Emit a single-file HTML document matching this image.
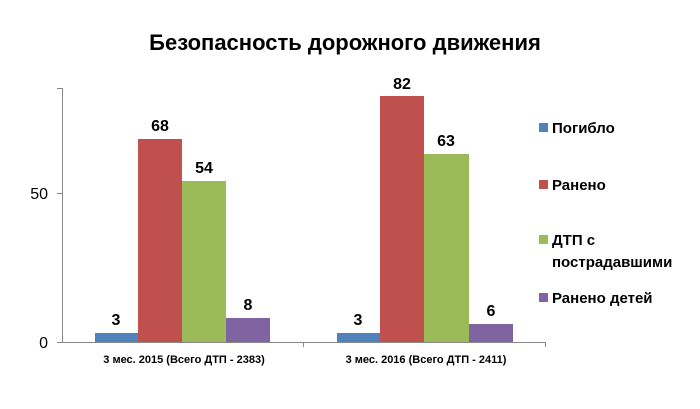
<!DOCTYPE html><html><head><meta charset="utf-8"><style>body{margin:0;background:#fff}svg{display:block}text{font-family:"Liberation Sans",sans-serif}</style></head><body>
<svg width="700" height="409" xmlns="http://www.w3.org/2000/svg">
<text x="345" y="50" font-size="22" font-weight="bold" text-anchor="middle" fill="#000">Безопасность дорожного движения</text>
<g stroke="#888" stroke-width="1">
<line x1="62.5" y1="88" x2="62.5" y2="343"/>
<line x1="57" y1="342.5" x2="545" y2="342.5"/>
<line x1="57" y1="193.5" x2="62" y2="193.5"/>
<line x1="57" y1="88.5" x2="62" y2="88.5"/>
<line x1="303.5" y1="342" x2="303.5" y2="347"/>
<line x1="545.5" y1="342" x2="545.5" y2="347"/>
</g>
<text x="48" y="199" font-size="16" text-anchor="end">50</text>
<text x="48" y="348" font-size="16" text-anchor="end">0</text>
<rect x="95" y="333" width="43" height="9" fill="#4f81bd"/>
<rect x="138" y="139" width="44" height="203" fill="#c0504d"/>
<rect x="182" y="181" width="44" height="161" fill="#9bbb59"/>
<rect x="226" y="318" width="44" height="24" fill="#8064a2"/>
<rect x="337" y="333" width="43" height="9" fill="#4f81bd"/>
<rect x="380" y="96" width="44" height="246" fill="#c0504d"/>
<rect x="424" y="154" width="45" height="188" fill="#9bbb59"/>
<rect x="469" y="324" width="44" height="18" fill="#8064a2"/>
<g font-size="16" font-weight="bold" text-anchor="middle">
<text x="116" y="325">3</text><text x="160" y="131">68</text><text x="204" y="173">54</text><text x="248" y="310">8</text>
<text x="358" y="325">3</text><text x="402" y="89">82</text><text x="446" y="146">63</text><text x="491" y="316">6</text>
</g>
<g font-size="11" font-weight="bold" text-anchor="middle">
<text x="184" y="363">3 мес. 2015  (Всего ДТП - 2383)</text>
<text x="426" y="363">3 мес. 2016  (Всего ДТП - 2411)</text>
</g>
<rect x="539" y="123" width="9" height="9" fill="#4f81bd"/>
<rect x="539" y="180" width="9" height="9" fill="#c0504d"/>
<rect x="539" y="235" width="9" height="9" fill="#9bbb59"/>
<rect x="539" y="293" width="9" height="9" fill="#8064a2"/>
<g font-size="15" font-weight="bold">
<text x="552" y="133">Погибло</text>
<text x="552" y="190">Ранено</text>
<text x="552" y="245">ДТП с</text>
<text x="552" y="267">пострадавшими</text>
<text x="552" y="303">Ранено детей</text>
</g>
</svg></body></html>
